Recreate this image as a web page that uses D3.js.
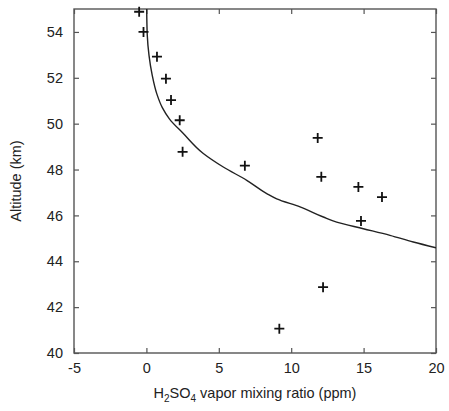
<!DOCTYPE html>
<html>
<head>
<meta charset="utf-8">
<script src="https://cdn.jsdelivr.net/npm/d3@7"></script>
<style>
  body { margin: 0; background: #fff; }
  text { font-family: "Liberation Sans", Arial, sans-serif; fill: #222; }
</style>
</head>
<body>
<svg id="chart" width="449" height="411"></svg>
<script>
// measured points (crosses)
var obsX = [-0.5, -0.2, 0.73, 1.35, 1.7, 2.3, 2.5, 6.8, 11.83, 12.08, 14.64, 16.27, 14.82, 12.2, 9.18];
var obsAlt = [54.88, 54.0, 52.92, 51.96, 51.03, 50.15, 48.77, 48.17, 49.38, 47.68, 47.24, 46.8, 45.76, 42.87, 41.06];

// model curve
var modelX = [0.02, 0.06, 0.18, 0.4, 0.72, 1.1, 1.6, 2.55, 3.93, 5.31, 6.93, 8.31, 9.0, 10.61, 12.22, 13.14, 14.98, 16.82, 18.43, 20.0];
var modelAlt = [55.0, 53.86, 52.98, 52.12, 51.3, 50.7, 50.2, 49.57, 48.7, 48.11, 47.53, 46.95, 46.72, 46.37, 45.93, 45.71, 45.42, 45.13, 44.84, 44.59];

var xTicks = [-5, 0, 5, 10, 15, 20];
var yTicks = [40, 42, 44, 46, 48, 50, 52, 54];

var margin = {top: 9, right: 13, bottom: 58, left: 74};
var width = 449 - margin.left - margin.right,
    height = 411 - margin.top - margin.bottom;

var svg = d3.select('#chart');
var g = svg.append('g').attr('transform', 'translate(' + margin.left + ',' + margin.top + ')');

var x = d3.scaleLinear().domain([-5, 20]).range([0, width]);
var y = d3.scaleLinear().domain([40, 55]).range([height, 0]);

// axes, ticks pointing inward on all sides
var axisColor = '#555';
var plain = function(d) { return String(d); };
function styleAxis(sel) {
  sel.select('.domain').remove();
  sel.selectAll('.tick line').attr('stroke', axisColor).attr('stroke-width', 1.2);
  sel.selectAll('.tick text').style('font-size', '14.5px').attr('fill', '#222');
}

g.append('g')
  .attr('transform', 'translate(0,' + height + ')')
  .call(d3.axisBottom(x).tickValues(xTicks).tickSize(-5).tickPadding(10).tickFormat(plain))
  .call(styleAxis);

g.append('g')
  .call(d3.axisLeft(y).tickValues(yTicks).tickSize(-5).tickPadding(11).tickFormat(plain))
  .call(styleAxis);

g.append('g')
  .call(d3.axisTop(x).tickValues(xTicks).tickSize(-5).tickFormat(''))
  .call(styleAxis);

g.append('g')
  .attr('transform', 'translate(' + width + ',0)')
  .call(d3.axisRight(y).tickValues(yTicks).tickSize(-5).tickFormat(''))
  .call(styleAxis);

g.append('rect')
  .attr('width', width).attr('height', height)
  .attr('fill', 'none').attr('stroke', axisColor).attr('stroke-width', 1.4);

// clip the curve to the plot box
svg.append('defs').append('clipPath').attr('id', 'clip')
  .append('rect').attr('width', width).attr('height', height);

var line = d3.line()
  .curve(d3.curveMonotoneY)
  .x(function(d, i) { return x(modelX[i]); })
  .y(function(d, i) { return y(modelAlt[i]); });

g.append('path')
  .datum(modelX)
  .attr('clip-path', 'url(#clip)')
  .attr('d', line)
  .attr('fill', 'none')
  .attr('stroke', '#222')
  .attr('stroke-width', 1.4);

// crosses
var s = 5;
g.selectAll('.obs')
  .data(obsX)
  .enter()
  .append('path')
  .attr('class', 'obs')
  .attr('d', function(d, i) {
    var px = x(d), py = y(obsAlt[i]);
    return 'M' + (px - s) + ',' + py + 'H' + (px + s) + 'M' + px + ',' + (py - s) + 'V' + (py + s);
  })
  .attr('stroke', '#111')
  .attr('stroke-width', 1.8)
  .attr('fill', 'none');

// axis titles
var xt = svg.append('text')
  .attr('x', margin.left + width / 2)
  .attr('y', 398)
  .attr('text-anchor', 'middle')
  .style('font-size', '14.5px');
xt.append('tspan').text('H');
xt.append('tspan').text('2').attr('dy', 4).style('font-size', '10px');
xt.append('tspan').text('SO').attr('dy', -4);
xt.append('tspan').text('4').attr('dy', 4).style('font-size', '10px');
xt.append('tspan').text(' vapor mixing ratio (ppm)').attr('dy', -4);

svg.append('text')
  .attr('transform', 'translate(21,' + (margin.top + height / 2) + ') rotate(-90)')
  .attr('text-anchor', 'middle')
  .style('font-size', '14.5px')
  .text('Altitude (km)');
</script>
</body>
</html>
